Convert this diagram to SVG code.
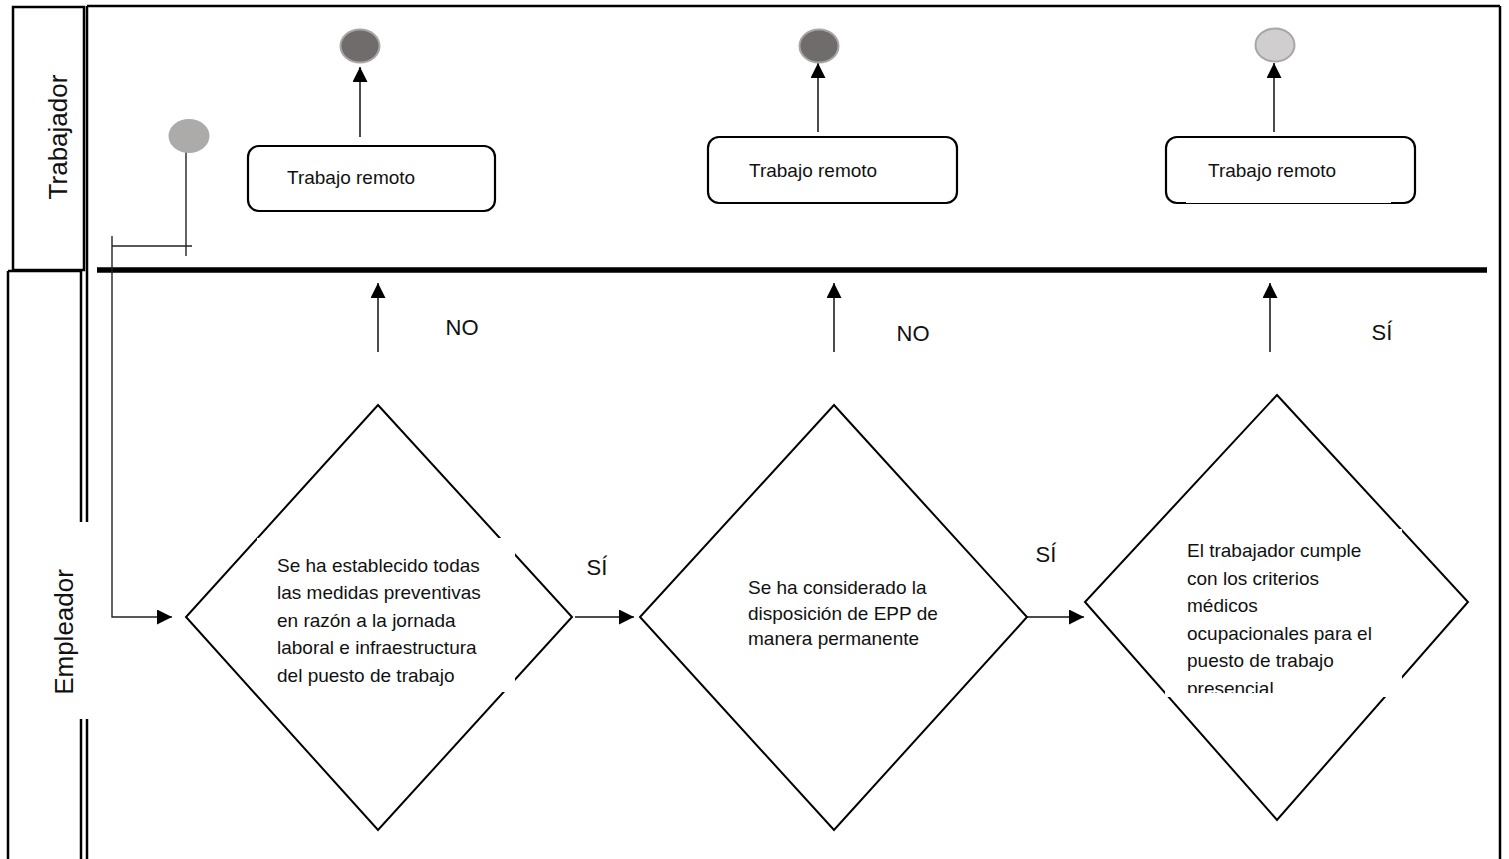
<svg xmlns="http://www.w3.org/2000/svg" width="1509" height="859" viewBox="0 0 1509 859">
<defs>
<style>
.frame{fill:none;stroke:#000;stroke-width:2.5}
.thin{fill:none;stroke:#222;stroke-width:1.4}
.arr{fill:none;stroke:#111;stroke-width:1.5}
.box{fill:#fff;stroke:#000;stroke-width:2.2}
.dia{fill:#fff;stroke:#000;stroke-width:2}
.t{font-family:"Liberation Sans",Arial,sans-serif;font-size:19px;fill:#111}
.lab{font-family:"Liberation Sans",Arial,sans-serif;font-size:22px;fill:#111}
.lane{font-family:"Liberation Sans",Arial,sans-serif;font-size:26px;fill:#111}
.dark{fill:#716c6c;stroke:#a9a6a6;stroke-width:2}
.light{fill:#d0cece;stroke:#a9a6a6;stroke-width:2}
</style>
<marker id="ah" viewBox="0 0 10 10" refX="10" refY="5" markerWidth="15" markerHeight="15" markerUnits="userSpaceOnUse" orient="auto"><path d="M0,0 L10,5 L0,10 z" fill="#000"/></marker>
<clipPath id="c3"><rect x="1165" y="529" width="237" height="164"/></clipPath>
</defs>
<rect width="1509" height="859" fill="#fff"/>

<g id="lanes">
<rect class="frame" x="13" y="7" width="71" height="263"/>
<line class="frame" x1="87" y1="6" x2="1500" y2="6"/>
<line class="frame" x1="1500" y1="6" x2="1500" y2="859"/>
<line class="frame" x1="87" y1="6" x2="87" y2="522"/>
<line class="frame" x1="87" y1="719" x2="87" y2="859"/>
<line class="frame" x1="8" y1="271" x2="81" y2="271"/>
<line class="frame" x1="8" y1="271" x2="8" y2="859"/>
<line class="frame" x1="81" y1="271" x2="81" y2="522"/>
<line class="frame" x1="81" y1="719" x2="81" y2="859"/>
<text class="lane" transform="translate(67,137) rotate(-90)" text-anchor="middle">Trabajador</text>
<text class="lane" transform="translate(73,632) rotate(-90)" text-anchor="middle">Empleador</text>
<line x1="97" y1="270" x2="1487" y2="270" stroke="#000" stroke-width="5.5"/>
</g>

<g id="connectors">
<polyline class="thin" points="186,146 186,256"/>
<polyline class="thin" points="112,246 192,246"/>
<polyline class="thin" points="112,236 112,617 172,617" marker-end="url(#ah)"/>
<line class="arr" x1="360" y1="137" x2="360" y2="67" marker-end="url(#ah)"/>
<line class="arr" x1="818" y1="132" x2="818" y2="63" marker-end="url(#ah)"/>
<line class="arr" x1="1274" y1="132" x2="1274" y2="63" marker-end="url(#ah)"/>
<line class="arr" x1="378" y1="352" x2="378" y2="283" marker-end="url(#ah)"/>
<line class="arr" x1="834" y1="352" x2="834" y2="283" marker-end="url(#ah)"/>
<line class="arr" x1="1270" y1="352" x2="1270" y2="283" marker-end="url(#ah)"/>
<line class="arr" x1="575" y1="617" x2="634" y2="617" marker-end="url(#ah)"/>
<line class="arr" x1="1025" y1="617" x2="1084" y2="617" marker-end="url(#ah)"/>
<text class="lab" x="462" y="335" text-anchor="middle">NO</text>
<text class="lab" x="913" y="341" text-anchor="middle">NO</text>
<text class="lab" x="1382" y="340" text-anchor="middle">SÍ</text>
<text class="lab" x="597" y="575" text-anchor="middle">SÍ</text>
<text class="lab" x="1046" y="562" text-anchor="middle">SÍ</text>
</g>

<g id="start">
<ellipse cx="189" cy="136" rx="20.5" ry="17" fill="#adaaaa"/>
</g>

<g id="end1"><ellipse class="dark" cx="360" cy="46" rx="19.5" ry="16.5"/></g>
<g id="end2"><ellipse class="dark" cx="819" cy="46" rx="19.5" ry="16.5"/></g>
<g id="end3"><ellipse class="light" cx="1275" cy="45" rx="19.5" ry="16.5"/></g>

<g id="remoto1">
<rect class="box" x="248" y="146" width="247" height="65" rx="11"/>
<text class="t" x="287" y="184">Trabajo remoto</text>
</g>
<g id="remoto2">
<rect class="box" x="708" y="137" width="249" height="66" rx="11"/>
<text class="t" x="749" y="177">Trabajo remoto</text>
</g>
<g id="remoto3">
<rect class="box" x="1166" y="137" width="249" height="66" rx="11"/>
<line x1="1186" y1="203" x2="1391" y2="203" stroke="#fff" stroke-width="3"/>
<line x1="1186" y1="203.5" x2="1391" y2="203.5" stroke="#000" stroke-width="1"/>
<text class="t" x="1208" y="177">Trabajo remoto</text>
</g>

<g id="decision1">
<polygon class="dia" points="378,405 572,617 378,830 186,617"/>
<rect x="257" y="538" width="258" height="154" fill="#fff"/>
<text class="t">
<tspan x="277" y="572">Se ha establecido todas</tspan>
<tspan x="277" y="599">las medidas preventivas</tspan>
<tspan x="277" y="627">en razón  a la jornada</tspan>
<tspan x="277" y="654">laboral e infraestructura</tspan>
<tspan x="277" y="682">del puesto de trabajo</tspan>
</text>
</g>

<g id="decision2">
<polygon class="dia" points="834,405 1027,617 834,830 640,617"/>
<text class="t">
<tspan x="748" y="594">Se ha considerado la</tspan>
<tspan x="748" y="620">disposición de EPP de</tspan>
<tspan x="748" y="645">manera permanente</tspan>
</text>
</g>

<g id="decision3">
<polygon class="dia" points="1277,395 1468,602 1277,820 1085,602"/>
<rect x="1165" y="529" width="237" height="168" fill="#fff"/>
<text class="t" clip-path="url(#c3)">
<tspan x="1187" y="557">El trabajador cumple</tspan>
<tspan x="1187" y="585">con los criterios</tspan>
<tspan x="1187" y="612">médicos</tspan>
<tspan x="1187" y="640">ocupacionales para el</tspan>
<tspan x="1187" y="667">puesto de trabajo</tspan>
<tspan x="1187" y="695">presencial</tspan>
</text>
</g>
</svg>
